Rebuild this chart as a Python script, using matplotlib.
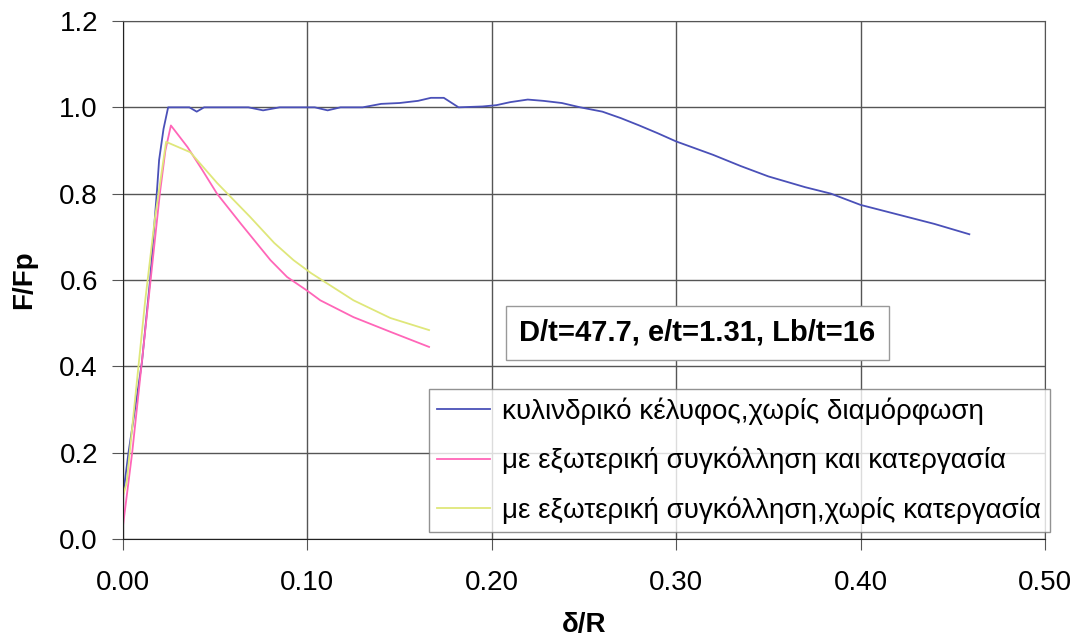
import matplotlib.pyplot as plt

# Data
x_blue = [0.0, 0.0, 0.003, 0.0065, 0.0103, 0.0147, 0.0185, 0.0196, 0.022, 0.0245,
          0.036, 0.040, 0.044, 0.068, 0.076, 0.085, 0.104, 0.111, 0.118, 0.13,
          0.14, 0.150, 0.16, 0.167, 0.174, 0.182, 0.195, 0.2025, 0.210, 0.2195,
          0.228, 0.238, 0.248, 0.26, 0.27, 0.28, 0.29, 0.30, 0.32, 0.335,
          0.35, 0.37, 0.384, 0.40, 0.42, 0.44, 0.459]
y_blue = [0.028, 0.10, 0.20, 0.30, 0.41, 0.60, 0.81, 0.878, 0.95, 1.0,
          1.0, 0.99, 1.0, 1.0, 0.993, 1.0, 1.0, 0.993, 1.0, 1.0,
          1.008, 1.01, 1.015, 1.022, 1.022, 1.0, 1.002, 1.005, 1.012, 1.018,
          1.015, 1.01, 1.0, 0.99, 0.975, 0.958, 0.94, 0.921, 0.89, 0.864,
          0.84, 0.815, 0.80, 0.774, 0.752, 0.73, 0.706]

x_pink = [0.0, 0.005, 0.01, 0.015, 0.02, 0.023, 0.026, 0.035, 0.043, 0.051,
          0.064, 0.080, 0.089, 0.100, 0.107, 0.125, 0.145, 0.166]
y_pink = [0.03, 0.20, 0.40, 0.60, 0.80, 0.90, 0.958, 0.908, 0.855, 0.80,
          0.73, 0.646, 0.607, 0.575, 0.553, 0.514, 0.48, 0.445]

x_yellow = [0.0, 0.002, 0.006, 0.012, 0.0174, 0.0234, 0.0365, 0.051, 0.069, 0.082,
            0.0925, 0.102, 0.125, 0.145, 0.166]
y_yellow = [0.10, 0.13, 0.30, 0.55, 0.745, 0.92, 0.896, 0.825, 0.746, 0.686,
            0.646, 0.616, 0.553, 0.512, 0.484]

labels = ["κυλινδρικό κέλυφος,χωρίς διαμόρφωση",
          "με εξωτερική συγκόλληση και κατεργασία",
          "με εξωτερική συγκόλληση,χωρίς κατεργασία"]
x_ticks = [0.0, 0.1, 0.2, 0.3, 0.4, 0.5]
y_ticks = [0.0, 0.2, 0.4, 0.6, 0.8, 1.0, 1.2]

plt.rcParams['font.family'] = ['Liberation Sans', 'DejaVu Sans']

fig = plt.figure(figsize=(10.92, 6.42), dpi=100)
ax = fig.add_axes([0.1126, 0.1604, 0.8443, 0.8069])

ax.plot(x_blue, y_blue, color='#4a50b8', lw=1.3, label=labels[0])
ax.plot(x_pink, y_pink, color='#ff66b8', lw=1.3, label=labels[1])
ax.plot(x_yellow, y_yellow, color='#dfe77a', lw=1.3, label=labels[2])

ax.set_xlim(0, 0.5)
ax.set_ylim(0, 1.2)
ax.set_xticks(x_ticks)
ax.set_yticks(y_ticks)
ax.set_xticklabels([f"{v:.2f}" for v in x_ticks])
ax.set_yticklabels([f"{v:.1f}" for v in y_ticks])
ax.tick_params(labelsize=20, length=8, color='#555555')
ax.tick_params(axis='x', pad=14)
ax.tick_params(axis='y', pad=10)
ax.grid(True, color='#555555', lw=1)
for s in ax.spines.values():
    s.set_color('#555555')
ax.spines['left'].set_color('#222222')
ax.spines['bottom'].set_color('#222222')

ax.set_xlabel("δ/R", fontsize=20, fontweight='bold', labelpad=12)
ax.set_ylabel("F/Fp", fontsize=20, fontweight='bold', labelpad=16)

ax.text(0.623, 0.398, "D/t=47.7, e/t=1.31, Lb/t=16", transform=ax.transAxes,
        fontsize=21, fontweight='bold', ha='center', va='center',
        bbox=dict(boxstyle='square,pad=0.45', fc='white', ec='#999999', lw=1))

leg = ax.legend(loc='lower right', bbox_to_anchor=(1.005, 0.013), fontsize=20,
                frameon=True, fancybox=False, edgecolor='#777777',
                handlelength=1.9, handletextpad=0.45, labelspacing=0.8,
                borderpad=0.3, borderaxespad=0)
leg.get_frame().set_linewidth(1)

fig.savefig("out.png", dpi=100)
